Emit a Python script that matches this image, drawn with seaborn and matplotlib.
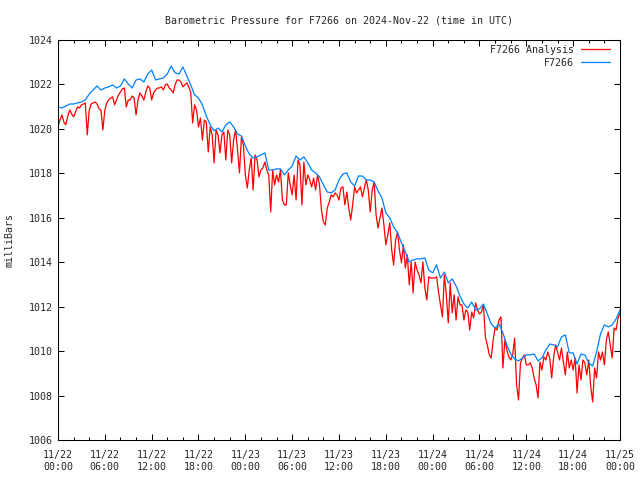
import numpy as np
import pandas as pd
import matplotlib
matplotlib.use('Agg')
import matplotlib.pyplot as plt
import matplotlib.dates as mdates
import seaborn as sns

# ─────────────────────────────────────────────
# Data (milliBars, starting 2024-11-22 00:00 UTC)
# ─────────────────────────────────────────────
START = pd.Timestamp('2024-11-22 00:00')
STATION_STEP_MIN = 30
ANALYSIS_STEP_MIN = 15
SERIES_NAMES = ['F7266 Analysis', 'F7266']
SERIES_COLORS = ['#ff0000', '#0080ff']

station_mb = [
    1020.99, 1020.94, 1021.03, 1021.12, 1021.12, 1021.17, 1021.21, 1021.30,
    1021.57, 1021.75, 1021.93, 1021.75, 1021.84, 1021.89, 1021.98, 1021.84,
    1021.93, 1022.25, 1022.02, 1021.84, 1022.20, 1022.25, 1022.11, 1022.47,
    1022.65, 1022.20, 1022.25, 1022.29, 1022.47, 1022.83, 1022.52, 1022.47,
    1022.79, 1022.38, 1021.98, 1021.53, 1021.39, 1021.08, 1020.58, 1020.18,
    1019.91, 1020.04, 1019.86, 1020.18, 1020.31, 1020.09, 1019.77, 1019.68,
    1019.23, 1018.87, 1018.69, 1018.74, 1018.83, 1018.92, 1018.15, 1018.15,
    1018.20, 1018.20, 1017.93, 1018.15, 1018.33, 1018.78, 1018.60, 1018.74,
    1018.47, 1018.15, 1018.02, 1017.84, 1017.48, 1017.16, 1017.12, 1017.25,
    1017.70, 1017.97, 1018.02, 1017.61, 1017.43, 1017.88, 1017.88, 1017.70,
    1017.70, 1017.61, 1017.21, 1016.89, 1016.22, 1015.99, 1015.59, 1015.32,
    1014.87, 1014.46, 1014.01, 1014.10, 1014.15, 1014.15, 1014.19, 1013.65,
    1013.52, 1013.88, 1013.29, 1013.56, 1013.07, 1013.25, 1012.93, 1012.48,
    1012.12, 1011.94, 1012.21, 1011.85, 1011.90, 1012.12, 1011.67, 1011.22,
    1011.04, 1011.22, 1010.82, 1010.28, 1009.87, 1009.65, 1009.56, 1009.69,
    1009.83, 1009.83, 1009.87, 1009.56, 1009.69, 1010.05, 1010.32, 1010.28,
    1010.19, 1010.64, 1010.73, 1009.92, 1009.92, 1009.42, 1009.87, 1009.83,
    1009.47, 1009.33, 1009.96, 1010.77, 1011.18, 1011.09, 1011.18, 1011.45,
    1011.85,
]

analysis_mb = [
    1020.09, 1020.40, 1020.63, 1020.31, 1020.18, 1020.58, 1020.85, 1020.67,
    1020.54, 1020.76, 1020.99, 1020.94, 1021.08, 1021.12, 1021.17, 1019.73,
    1020.85, 1021.12, 1021.17, 1021.21, 1021.12, 1020.90, 1020.85, 1019.95,
    1020.85, 1021.17, 1021.30, 1021.39, 1021.44, 1021.08, 1021.30, 1021.53,
    1021.66, 1021.80, 1021.84, 1020.99, 1021.30, 1021.30, 1021.48, 1021.39,
    1020.63, 1021.30, 1021.62, 1021.48, 1021.30, 1021.66, 1021.93, 1021.84,
    1021.30, 1021.62, 1021.75, 1021.84, 1021.84, 1021.89, 1021.75, 1021.98,
    1022.02, 1021.84, 1021.75, 1021.62, 1021.98, 1022.20, 1022.20, 1022.11,
    1021.89, 1021.98, 1022.07, 1021.89, 1021.66, 1020.27, 1021.08, 1020.85,
    1020.09, 1020.49, 1019.50, 1020.40, 1020.31, 1018.96, 1020.09, 1019.73,
    1018.47, 1019.95, 1019.73, 1018.92, 1019.73, 1019.86, 1018.60, 1019.95,
    1019.73, 1018.47, 1019.50, 1019.95, 1019.05, 1018.02, 1019.64, 1019.28,
    1017.93, 1017.34, 1018.15, 1018.69, 1017.25, 1018.83, 1018.60, 1017.84,
    1018.15, 1018.24, 1018.51, 1018.15, 1017.93, 1016.26, 1018.15, 1017.48,
    1017.93, 1017.61, 1018.15, 1016.80, 1016.58, 1016.58, 1018.02, 1017.48,
    1017.03, 1017.93, 1016.80, 1018.60, 1018.38, 1016.58, 1018.51, 1017.48,
    1017.93, 1017.70, 1017.39, 1017.79, 1017.25, 1017.93, 1017.48, 1016.35,
    1015.81, 1015.68, 1016.44, 1016.71, 1017.03, 1016.94, 1017.12, 1017.03,
    1016.80, 1017.34, 1017.39, 1016.58, 1017.16, 1016.44, 1015.90, 1016.58,
    1017.39, 1017.12, 1017.25, 1017.39, 1016.94, 1017.34, 1017.70, 1017.25,
    1016.26, 1017.25, 1017.61, 1016.13, 1015.54, 1015.99, 1016.44, 1015.68,
    1014.78, 1015.23, 1015.77, 1014.55, 1013.88, 1015.00, 1015.36, 1014.55,
    1013.97, 1014.78, 1013.74, 1014.33, 1012.98, 1014.01, 1012.62, 1014.01,
    1013.65, 1013.43, 1013.07, 1014.01, 1012.84, 1012.30, 1013.34, 1013.29,
    1013.29, 1013.29, 1013.34, 1012.66, 1012.08, 1011.54, 1013.43, 1012.53,
    1011.27, 1013.07, 1011.72, 1012.53, 1011.40, 1012.44, 1012.08, 1012.08,
    1011.40, 1011.85, 1011.76, 1010.95, 1011.76, 1011.49, 1012.17, 1011.85,
    1011.67, 1011.76, 1012.08, 1010.64, 1010.28, 1009.83, 1009.69, 1010.50,
    1011.04, 1010.95, 1011.40, 1011.54, 1009.24, 1010.50, 1010.05, 1009.74,
    1009.60, 1009.83, 1010.59, 1008.48, 1007.80, 1009.47, 1009.69, 1009.83,
    1009.38, 1009.38, 1009.47, 1009.24, 1008.79, 1008.48, 1007.89, 1009.51,
    1009.15, 1009.74, 1009.60, 1009.96, 1009.69, 1008.79, 1009.74, 1010.28,
    1009.96, 1009.60, 1010.14, 1009.51, 1008.93, 1009.96, 1009.24, 1009.60,
    1009.15, 1009.69, 1008.12, 1009.38, 1008.70, 1009.60, 1009.47, 1008.93,
    1009.60, 1008.39, 1007.71, 1009.24, 1008.79, 1009.96, 1009.60, 1009.96,
    1009.38, 1010.50, 1010.86, 1010.28, 1009.69, 1011.04, 1010.95, 1011.49,
    1011.72,
]

y_ticks = np.arange(1006, 1025, 2)


def to_frame(values, name, step_min):
    times = START + pd.to_timedelta(np.arange(len(values)) * step_min, unit='min')
    return pd.DataFrame({'time': times, 'pressure': values, 'series': name})


df = pd.concat([to_frame(analysis_mb, SERIES_NAMES[0], ANALYSIS_STEP_MIN),
                to_frame(station_mb, SERIES_NAMES[1], STATION_STEP_MIN)],
               ignore_index=True)

# ─────────────────────────────────────────────
# Plot
# ─────────────────────────────────────────────
sns.set_style('ticks')
plt.rcParams['font.family'] = ['DejaVu Sans Mono']
plt.rcParams['font.size'] = 7.2

fig = plt.figure(figsize=(6.4, 4.8), dpi=100)
ax = fig.add_axes([58 / 640, 40 / 480, 562 / 640, 400 / 480])

sns.lineplot(data=df, x='time', y='pressure', hue='series',
             hue_order=SERIES_NAMES, palette=SERIES_COLORS,
             linewidth=0.9, estimator=None, ax=ax)

ax.set_xlim(START, START + pd.Timedelta(days=3))
ax.set_ylim(1006, 1024)
ax.set_yticks(y_ticks)

ax.xaxis.set_major_locator(mdates.HourLocator(byhour=[0, 6, 12, 18]))
ax.xaxis.set_minor_locator(mdates.HourLocator(byhour=range(0, 24, 2)))
ax.xaxis.set_major_formatter(mdates.DateFormatter('%m/%d\n%H:%M'))

ax.tick_params(which='both', direction='in', top=True, right=True,
               width=0.75, color='black', labelsize=7.2)
ax.tick_params(axis='x', which='major', length=4.5, pad=7)
ax.tick_params(axis='x', which='minor', length=2.2)
ax.tick_params(axis='y', which='major', length=4, pad=4)
plt.setp(ax.get_xticklabels(), linespacing=1.3)

for spine in ax.spines.values():
    spine.set_color('black')
    spine.set_linewidth(0.75)

ax.set_title('Barometric Pressure for F7266 on 2024-Nov-22 (time in UTC)',
             fontsize=7.2, pad=12)
ax.set_xlabel('')
ax.set_ylabel('milliBars', fontsize=7.2)
ax.yaxis.set_label_coords(-0.078, 0.5)

# gnuplot style key: text right-aligned, sample line on the right
old_leg = ax.get_legend()
handles = old_leg.legend_handles
labels = [t.get_text() for t in old_leg.get_texts()]
ax.legend(handles, labels, loc='upper right', bbox_to_anchor=(0.982, 0.9875),
          markerfirst=False, frameon=False, borderpad=0, borderaxespad=0,
          handlelength=2.9, handletextpad=0.7, labelspacing=0.3, fontsize=7.2)

plt.savefig('out.png', dpi=100)
plt.close()
print(len(station_mb), len(analysis_mb))
